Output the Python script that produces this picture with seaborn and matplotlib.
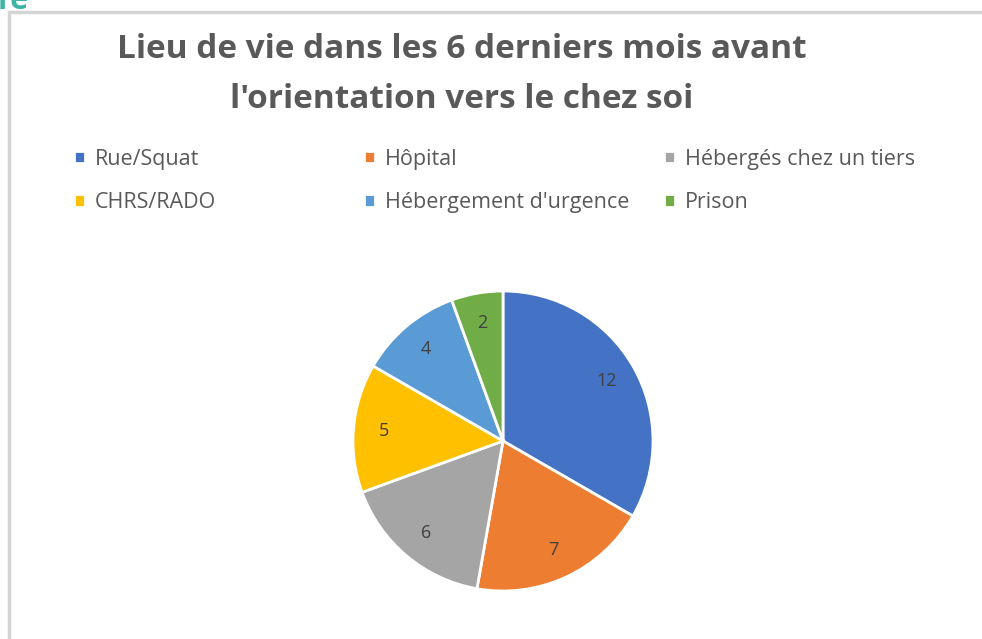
import matplotlib
matplotlib.use("Agg")
import matplotlib.pyplot as plt
import seaborn as sns
from matplotlib.patches import Rectangle

# Data
categories = ["Rue/Squat", "Hôpital", "Hébergés chez un tiers",
              "CHRS/RADO", "Hébergement d'urgence", "Prison"]
counts = [12, 7, 6, 5, 4, 2]
colors = ["#4472C4", "#ED7D31", "#A5A5A5", "#FFC000", "#5B9BD5", "#70AD47"]
title_lines = ["Lieu de vie dans les 6 derniers mois avant",
               "l'orientation vers le chez soi"]

sns.set_theme(style="white")
plt.rcParams["font.family"] = ["Open Sans", "DejaVu Sans"]

W, H = 982, 639
fig = plt.figure(figsize=(W / 100, H / 100), dpi=100)
fig.patch.set_facecolor("white")

# chart frame (cropped screenshot look)
fig.add_artist(Rectangle((9 / W, -0.1), 1.2, 1 - 12 / H + 0.1,
                         transform=fig.transFigure, fill=False,
                         edgecolor="#D4D4D4", linewidth=2.5))
# cropped teal heading at the very top
fig.text(-0.002, 1 - 9 / H, "re", color="#3CB5A8", fontsize=22,
         fontweight="bold", ha="left", va="baseline")

for line, y in zip(title_lines, [50, 100]):
    fig.text(462 / W, 1 - y / H, line, ha="center", va="center",
             fontsize=24, fontweight="bold", color="#595959")

ax = fig.add_axes([353 / W, 48 / H, 300 / W, 300 / H])
wedges, texts, autotexts = ax.pie(
    counts, colors=colors, startangle=90, counterclock=False,
    autopct=lambda p: f"{round(p * sum(counts) / 100):d}", pctdistance=0.8,
    wedgeprops=dict(edgecolor="white", linewidth=2),
    textprops=dict(fontsize=13, color="#404040"))
ax.set_xlim(-1.0, 1.0)
ax.set_ylim(-1.0, 1.0)
ax.set_aspect("equal")
ax.axis("off")

# legend: three columns, filled row by row
col_x = [65, 355, 655]
for c, x in enumerate(col_x):
    idx = [c, c + 3]
    fig.legend([wedges[i] for i in idx], [categories[i] for i in idx],
               loc="upper left", bbox_to_anchor=(x / W, 1 - 140 / H),
               frameon=False, fontsize=15.5, labelcolor="#595959",
               handlelength=0.55, handleheight=0.55, handletextpad=0.45,
               labelspacing=1.03, borderaxespad=0)

fig.savefig("out.png", dpi=100)
